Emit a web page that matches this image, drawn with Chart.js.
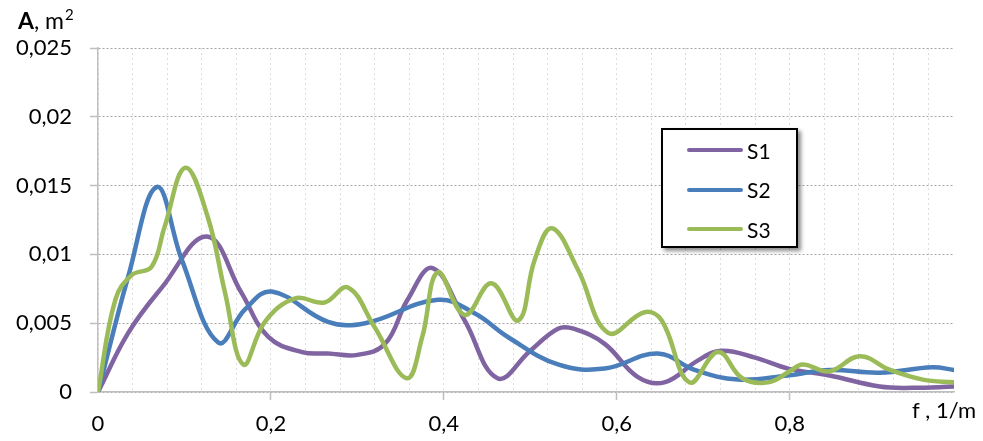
<!DOCTYPE html>
<html>
<head>
<meta charset="utf-8">
<script src="https://cdn.jsdelivr.net/npm/chart.js@4.4.1/dist/chart.umd.min.js"></script>
<style>
  html, body { margin: 0; padding: 0; background: #fff; }
  #wrap { position: relative; width: 983px; height: 441px; }
  #c { position: absolute; left: 0; top: 0; }
  #legend { position: absolute; left: 661px; top: 128px; width: 133px; height: 116px;
            border: 2px solid #000; background: #fff; box-shadow: 3px 3px 4px rgba(0,0,0,0.45); }
  .item { position: absolute; left: 24px; height: 24px; display: flex; align-items: center; }
  .item .sw { width: 56px; height: 4px; border-radius: 2px; margin-right: 4px; }
  .item .tx { font: 21px Lato, sans-serif; color: #000; }
</style>
</head>
<body>
<div id="wrap">
  <canvas id="c" width="983" height="441"></canvas>
  <div id="legend"></div>
</div>
<script>
// Spectral amplitude A (m²) against spatial frequency f (1/m)
const seriesNames = ['S1', 'S2', 'S3'];
const seriesColors = ['#8064A2', '#4A7EBB', '#9BBB59'];

const s1Freq = [0, 0.035, 0.074, 0.126, 0.166, 0.197, 0.236, 0.266, 0.30, 0.332, 0.358, 0.387, 0.424, 0.462, 0.50, 0.532, 0.55, 0.586, 0.624, 0.655, 0.694, 0.721, 0.76, 0.798, 0.846, 0.904, 0.942, 0.99];
const s1Amp  = [0, 0.0043, 0.0076, 0.0113, 0.0072, 0.0040, 0.0029, 0.0028, 0.0027, 0.0035, 0.0067, 0.0090, 0.0052, 0.0010, 0.0030, 0.0046, 0.0046, 0.0035, 0.0011, 0.0007, 0.0023, 0.0030, 0.0025, 0.0017, 0.0012, 0.0004, 0.0003, 0.0004];

const s2Freq = [0, 0.035, 0.068, 0.097, 0.139, 0.17, 0.201, 0.266, 0.309, 0.393, 0.436, 0.474, 0.532, 0.586, 0.647, 0.69, 0.74, 0.798, 0.846, 0.904, 0.965, 0.99];
const s2Amp  = [0, 0.0084, 0.0149, 0.0096, 0.0036, 0.0060, 0.0073, 0.0051, 0.0050, 0.0067, 0.0057, 0.0040, 0.0020, 0.0017, 0.0028, 0.0016, 0.0009, 0.0012, 0.0016, 0.0014, 0.0018, 0.0016];

const s3Freq = [0, 0.02, 0.039, 0.062, 0.077, 0.101, 0.127, 0.147, 0.168, 0.193, 0.228, 0.262, 0.289, 0.32, 0.357, 0.375, 0.393, 0.424, 0.455, 0.486, 0.505, 0.525, 0.555, 0.59, 0.632, 0.652, 0.684, 0.717, 0.745, 0.775, 0.80, 0.815, 0.846, 0.881, 0.916, 0.954, 0.99];
const s3Amp  = [0, 0.0067, 0.0085, 0.0091, 0.0120, 0.0163, 0.0127, 0.0072, 0.0020, 0.0051, 0.0068, 0.0065, 0.0076, 0.0047, 0.0010, 0.0040, 0.0087, 0.0056, 0.0079, 0.0052, 0.0096, 0.0119, 0.0089, 0.0043, 0.0058, 0.0052, 0.0007, 0.0029, 0.0010, 0.0007, 0.0015, 0.0020, 0.0015, 0.0026, 0.0016, 0.0009, 0.0007];

const xMax = 0.99;
const xMajorStep = 0.2;
const xMinorStep = 0.04;
const yMax = 0.025;
const yStep = 0.005;
const xAxisName = 'f , 1/m';
const yAxisName = ['A', ', m', '2'];

const toPoints = (fs, as) => fs.map((f, i) => ({ x: f, y: as[i] }));
const comma = v => String(+v.toFixed(4)).replace('.', ',');
const isMajor = v => Math.abs(v / xMajorStep - Math.round(v / xMajorStep)) < 1e-6;

const seriesData = [toPoints(s1Freq, s1Amp), toPoints(s2Freq, s2Amp), toPoints(s3Freq, s3Amp)];
const drawOrder = [2, 1, 0];

const datasets = seriesNames.map((name, i) => ({
  label: name,
  data: seriesData[i],
  borderColor: seriesColors[i],
  backgroundColor: seriesColors[i],
  borderWidth: 4.5,
  pointRadius: 0,
  fill: false,
  tension: 0.4,
  borderCapStyle: 'round',
  borderJoinStyle: 'round',
  order: drawOrder[i]
}));

const FAMILY = 'Lato, sans-serif';
const FONT = { family: FAMILY, size: 22 };

// axis names: y name above the value axis, x name in place of the last x tick label
const axisNamePlugin = {
  id: 'axisName',
  afterDraw(chart) {
    const sx = chart.scales.x;
    const ctx = chart.ctx;
    let y = sx.top + 8 + 11 + FONT.size * 0.6;
    let baseline = 'middle';
    try {
      const items = sx.getLabelItems();
      if (items && items.length) {
        y = items[0].options.translation[1];
        baseline = items[0].options.textBaseline || baseline;
      }
    } catch (e) {}
    ctx.save();
    ctx.fillStyle = '#000';
    ctx.font = FONT.size + 'px ' + FAMILY;
    ctx.textAlign = 'center';
    ctx.textBaseline = baseline;
    ctx.fillText(xAxisName, chart.chartArea.right - 10, y);

    // "A, m²"
    ctx.textAlign = 'left';
    ctx.textBaseline = 'alphabetic';
    let x = 18;
    const base = 29;
    ctx.font = 'bold 23px ' + FAMILY;
    ctx.fillText(yAxisName[0], x, base);
    x += ctx.measureText(yAxisName[0]).width;
    ctx.font = '23px ' + FAMILY;
    ctx.fillText(yAxisName[1], x, base);
    x += ctx.measureText(yAxisName[1]).width + 1;
    ctx.font = '15px ' + FAMILY;
    ctx.fillText(yAxisName[2], x, base - 9);
    ctx.restore();
  }
};

const chart = new Chart(document.getElementById('c'), {
  type: 'line',
  data: { datasets },
  plugins: [axisNamePlugin],
  options: {
    responsive: false,
    animation: false,
    events: [],
    layout: { padding: { left: 0, right: 29, top: 48, bottom: 0 } },
    plugins: { legend: { display: false }, tooltip: { enabled: false } },
    scales: {
      x: {
        type: 'linear',
        min: 0,
        max: xMax,
        afterFit(s) { s.height = 49; },
        border: { display: true, color: '#bfbfbf', width: 1.5, dash: [2, 3] },
        grid: {
          color: '#dcdcdc',
          lineWidth: 1,
          tickLength: 8,
          tickWidth: 1.5,
          tickBorderDash: [],
          tickColor: ctx => (ctx.tick && isMajor(ctx.tick.value) && ctx.tick.value > 0) ? '#bfbfbf' : 'rgba(0,0,0,0)'
        },
        ticks: {
          stepSize: xMinorStep,
          includeBounds: false,
          autoSkip: false,
          maxRotation: 0,
          padding: 11,
          color: '#000',
          font: FONT,
          callback: v => isMajor(v) ? comma(v) : ''
        }
      },
      y: {
        min: 0,
        max: yMax,
        afterFit(s) { s.width = 98; },
        border: { display: true, color: '#bfbfbf', width: 1.5, dash: [2, 2] },
        grid: {
          color: '#a6a6a6',
          lineWidth: 1,
          tickLength: 8,
          tickWidth: 1.5,
          tickBorderDash: [],
          tickColor: '#bfbfbf'
        },
        ticks: {
          stepSize: yStep,
          padding: 18,
          color: '#000',
          font: FONT,
          callback: v => comma(v)
        }
      }
    }
  }
});

// legend box built from the chart's own datasets
const legend = document.getElementById('legend');
chart.data.datasets.forEach((ds, i) => {
  const row = document.createElement('div');
  row.className = 'item';
  row.style.top = (8 + i * 39.5) + 'px';
  row.innerHTML = '<span class="sw" style="background:' + ds.borderColor + '"></span><span class="tx">' + ds.label + '</span>';
  legend.appendChild(row);
});
</script>
</body>
</html>
